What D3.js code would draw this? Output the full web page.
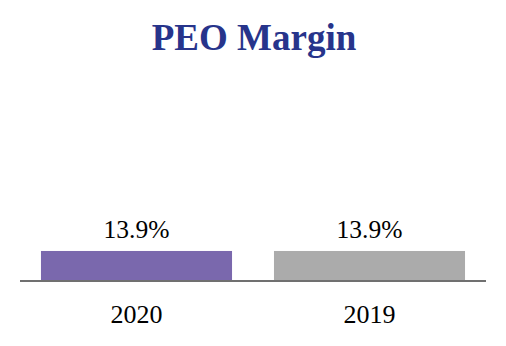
<!DOCTYPE html>
<html><head><meta charset="utf-8">
<script src="https://cdn.jsdelivr.net/npm/d3@7"></script>
<style>body{margin:0;background:#fff;}svg{display:block;}</style>
</head><body>
<svg id="c" width="506" height="346"></svg>
<script>
const categories = ["2020", "2019"];
const values = [13.9, 13.9];
const valueLabels = ["13.9%", "13.9%"];
const colors = ["#7a68ad", "#ababab"];
const title = "PEO Margin";

const svg = d3.select("#c");
const x = d3.scaleBand().domain(categories).range([20, 486]).paddingInner(0.18).paddingOuter(0.09);
const y = d3.scaleLinear().domain([0, 100]).range([281, 65]);

svg.append("text").attr("x", 254).attr("y", 50).attr("text-anchor", "middle")
  .attr("font-family", "Liberation Serif, serif").attr("font-weight", "bold")
  .attr("font-size", 37).attr("fill", "#27348b").text(title);

svg.selectAll("rect.bar").data(values).join("rect").attr("class", "bar")
  .attr("x", (d, i) => x(categories[i])).attr("width", x.bandwidth())
  .attr("y", d => y(d)).attr("height", d => y(0) - y(d))
  .attr("fill", (d, i) => colors[i]);

svg.selectAll("text.val").data(values).join("text").attr("class", "val")
  .attr("x", (d, i) => x(categories[i]) + x.bandwidth() / 2).attr("y", d => y(d) - 13)
  .attr("text-anchor", "middle").attr("font-family", "Liberation Serif, serif")
  .attr("font-size", 25.5).attr("fill", "#000").text((d, i) => valueLabels[i]);

const ax = svg.append("g").attr("transform", `translate(0,${y(0)})`)
  .call(d3.axisBottom(x).tickSize(0).tickPadding(24));
ax.select(".domain").attr("stroke", "#707070").attr("stroke-width", 2).attr("d", "M20,0H486");
ax.selectAll("text").attr("font-family", "Liberation Serif, serif").attr("font-size", 26).attr("fill", "#000");
</script>
</body></html>
